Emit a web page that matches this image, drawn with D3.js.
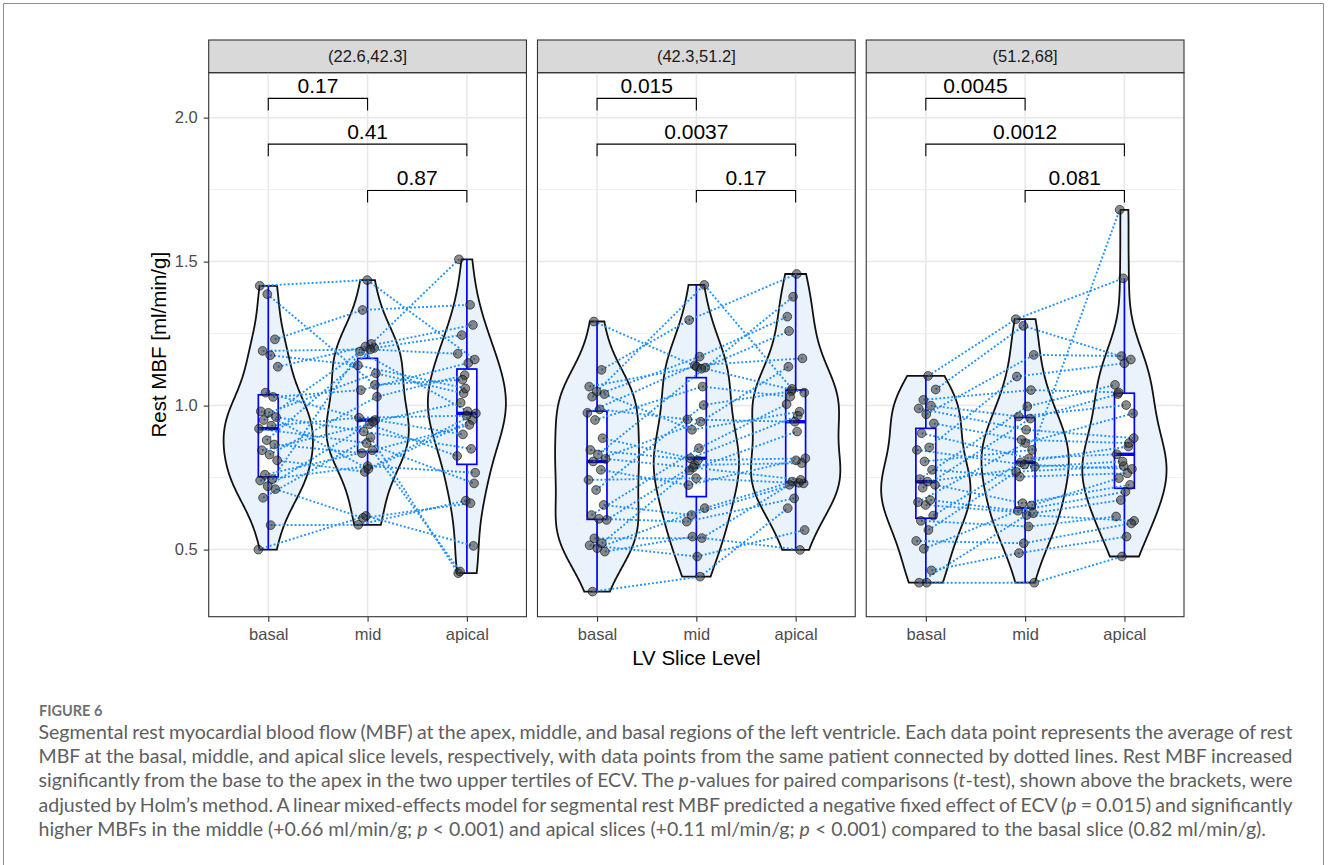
<!DOCTYPE html>
<html>
<head>
<meta charset="utf-8">
<script src="https://cdn.jsdelivr.net/npm/d3@7"></script>
<style>
body { margin: 0; background: #fff; }
svg { display: block; }
</style>
</head>
<body>
<svg id="chart" width="1328" height="865"></svg>
<script>
var facets = ["(22.6,42.3]", "(42.3,51.2]", "(51.2,68]"];
var levels = ["basal", "mid", "apical"];

// one value per patient, same index = same patient
var basal1 = [0.50, 0.585, 0.68, 0.71, 0.72, 0.74, 0.745, 0.76, 0.81, 0.83, 0.845, 0.865, 0.88, 0.92, 0.93, 0.95, 0.96, 0.975, 0.98, 1.03, 1.045, 1.135, 1.175, 1.19, 1.23, 1.387, 1.416];
var mid1 = [0.617, 0.586, 0.89, 0.61, 0.95, 0.79, 1.188, 0.845, 0.77, 1.031, 0.935, 0.835, 1.2, 0.87, 0.958, 1.214, 0.91, 1.112, 0.78, 1.054, 0.944, 1.205, 1.14, 1.195, 1.332, 1.072, 1.436];
var apical1 = [0.513, 0.67, 0.418, 0.661, 0.90, 0.767, 0.98, 0.424, 0.95, 1.106, 0.825, 0.933, 1.245, 0.73, 0.965, 1.508, 0.85, 1.043, 0.973, 1.148, 1.01, 1.28, 1.06, 1.18, 1.35, 1.09, 1.16];

var basal2 = [0.354, 0.493, 0.505, 0.515, 0.522, 0.539, 0.603, 0.607, 0.62, 0.655, 0.707, 0.742, 0.777, 0.806, 0.815, 0.83, 0.846, 0.887, 0.95, 0.975, 0.987, 1.031, 1.04, 1.049, 1.066, 1.124, 1.292];
var mid2 = [0.406, 0.545, 0.644, 0.476, 0.775, 0.54, 0.794, 0.597, 0.852, 0.62, 1.002, 0.748, 0.724, 0.944, 0.785, 1.132, 0.81, 0.817, 1.066, 1.14, 0.952, 1.17, 0.916, 1.419, 1.135, 1.297, 1.128];
var apical2 = [0.644, 0.499, 0.736, 0.568, 0.91, 0.725, 0.80, 0.678, 1.005, 0.732, 1.05, 0.73, 0.81, 1.135, 0.742, 1.378, 0.817, 0.965, 1.031, 1.164, 0.944, 1.309, 0.979, 1.058, 1.045, 1.457, 1.259];

var basal3 = [0.385, 0.385, 0.428, 0.503, 0.53, 0.568, 0.6, 0.618, 0.655, 0.665, 0.672, 0.715, 0.725, 0.736, 0.745, 0.777, 0.806, 0.846, 0.855, 0.904, 0.938, 0.97, 0.99, 1.0, 1.02, 1.056, 1.103];
var mid3 = [0.385, 0.62, 0.488, 0.653, 0.522, 0.77, 0.58, 0.803, 0.626, 0.87, 0.635, 0.955, 0.661, 0.788, 0.997, 0.753, 0.846, 0.795, 1.101, 0.817, 0.881, 1.176, 0.916, 0.962, 1.054, 1.277, 1.30];
var apical3 = [0.476, 0.60, 0.545, 0.748, 0.591, 0.79, 0.615, 0.858, 0.672, 0.973, 0.701, 1.04, 0.725, 0.806, 1.072, 0.765, 1.68, 0.78, 1.147, 0.831, 0.87, 1.172, 0.887, 1.002, 1.046, 1.16, 1.442];

// adjusted p-values: basal-mid, basal-apical, mid-apical
var pvals1 = ["0.17", "0.41", "0.87"];
var pvals2 = ["0.015", "0.0037", "0.17"];
var pvals3 = ["0.0045", "0.0012", "0.081"];
var comparisons = [["basal", "mid"], ["basal", "apical"], ["mid", "apical"]];
var bracketY = [2.067, 1.908, 1.747];

var yTicks = [0.5, 1.0, 1.5, 2.0];
var yMinor = [0.75, 1.25, 1.75];

var captionTitle = "FIGURE 6";
var captionLines = [
    "Segmental rest myocardial blood flow (MBF) at the apex, middle, and basal regions of the left ventricle. Each data point represents the average of rest",
    "MBF at the basal, middle, and apical slice levels, respectively, with data points from the same patient connected by dotted lines. Rest MBF increased",
    "significantly from the base to the apex in the two upper tertiles of ECV. The _p_-values for paired comparisons (_t_-test), shown above the brackets, were",
    "adjusted by Holm\u2019s method. A linear mixed-effects model for segmental rest MBF predicted a negative fixed effect of ECV (_p_ = 0.015) and significantly",
    "higher MBFs in the middle (+0.66 ml/min/g; _p_ < 0.001) and apical slices (+0.11 ml/min/g; _p_ < 0.001) compared to the basal slice (0.82 ml/min/g)."
];

var panels = [
    { facet: facets[0], basal: basal1, mid: mid1, apical: apical1, pvals: pvals1 },
    { facet: facets[1], basal: basal2, mid: mid2, apical: apical2, pvals: pvals2 },
    { facet: facets[2], basal: basal3, mid: mid3, apical: apical3, pvals: pvals3 }
];

var FONT = "'Liberation Sans', Arial, Helvetica, sans-serif";
var svg = d3.select('#chart');

svg.append('rect').attr('width', 1328).attr('height', 865).attr('fill', '#fff');
svg.append('path')
    .attr('d', 'M3.5,870V3.5H1323.5V870')
    .attr('fill', 'none')
    .attr('stroke', '#8c8c8c')
    .attr('stroke-width', 1);

var stripTop = 40, panelTop = 72.7, panelBottom = 616.7;
var fx = d3.scaleBand().domain(facets).range([208.7, 1184]).paddingInner(0.0335);
var y = d3.scaleLinear().domain([0.267, 2.156]).range([panelBottom, panelTop]);

// gaussian kernel density, bw.nrd0, trimmed to the data range
function kde(values, n) {
    var s = values.slice().sort(d3.ascending);
    var sd = d3.deviation(s);
    var iqr = d3.quantile(s, 0.75) - d3.quantile(s, 0.25);
    var bw = 0.9 * Math.min(sd, iqr / 1.34) * Math.pow(s.length, -0.2);
    var lo = s[0], hi = s[s.length - 1];
    var out = [];
    for (var k = 0; k < n; k++) {
        var t = lo + (hi - lo) * k / (n - 1);
        var sum = 0;
        for (var j = 0; j < s.length; j++) {
            var z = (t - s[j]) / bw;
            sum += Math.exp(-0.5 * z * z);
        }
        out.push([t, sum / (s.length * bw * Math.sqrt(2 * Math.PI))]);
    }
    return out;
}

function boxStats(values) {
    var s = values.slice().sort(d3.ascending);
    var q1 = d3.quantile(s, 0.25), med = d3.quantile(s, 0.5), q3 = d3.quantile(s, 0.75);
    var iqr = q3 - q1;
    var lo = d3.min(s.filter(v => v >= q1 - 1.5 * iqr));
    var hi = d3.max(s.filter(v => v <= q3 + 1.5 * iqr));
    return { q1: q1, med: med, q3: q3, lo: lo, hi: hi };
}

panels.forEach(function (p, pi) {
    var x0 = fx(p.facet), pw = fx.bandwidth();
    var x = d3.scalePoint().domain(levels).range([0, pw]).padding(0.6);
    var step = x.step();
    var g = svg.append('g').attr('transform', 'translate(' + x0 + ',0)');

    // strip
    g.append('rect')
        .attr('x', 0).attr('y', stripTop)
        .attr('width', pw).attr('height', panelTop - stripTop)
        .attr('fill', '#d9d9d9').attr('stroke', '#333').attr('stroke-width', 1.1);
    g.append('text')
        .attr('x', pw / 2).attr('y', (stripTop + panelTop) / 2)
        .attr('dy', '0.36em')
        .attr('text-anchor', 'middle')
        .style('font-family', FONT).style('font-size', '16.5px').style('fill', '#1a1a1a')
        .text(p.facet);

    // grid
    g.selectAll('.minor').data(yMinor).enter().append('line')
        .attr('x1', 0).attr('x2', pw)
        .attr('y1', d => y(d)).attr('y2', d => y(d))
        .attr('stroke', '#ebebeb').attr('stroke-width', 0.8);
    g.selectAll('.major').data(yTicks).enter().append('line')
        .attr('x1', 0).attr('x2', pw)
        .attr('y1', d => y(d)).attr('y2', d => y(d))
        .attr('stroke', '#e8e8e8').attr('stroke-width', 1.5);
    g.selectAll('.vgrid').data(levels).enter().append('line')
        .attr('x1', d => x(d)).attr('x2', d => x(d))
        .attr('y1', panelTop).attr('y2', panelBottom)
        .attr('stroke', '#e8e8e8').attr('stroke-width', 1.5);

    // violins, scaled by the panel's max density
    var dens = levels.map(l => kde(p[l], 512));
    var maxD = d3.max(dens, d => d3.max(d, e => e[1]));
    levels.forEach(function (l, li) {
        var cx = x(l);
        var area = d3.area()
            .x0(d => cx - d[1] / maxD * 0.45 * step)
            .x1(d => cx + d[1] / maxD * 0.45 * step)
            .y(d => y(d[0]));
        g.append('path')
            .attr('d', area(dens[li]) + 'Z')
            .attr('fill', '#eaf3fc')
            .attr('stroke', '#111')
            .attr('stroke-width', 1.8);
    });

    // boxplots
    levels.forEach(function (l) {
        var cx = x(l), b = boxStats(p[l]), hw = 0.1 * step;
        g.append('line').attr('x1', cx).attr('x2', cx)
            .attr('y1', y(b.hi)).attr('y2', y(b.q3))
            .attr('stroke', '#0000ff').attr('stroke-width', 1.7);
        g.append('line').attr('x1', cx).attr('x2', cx)
            .attr('y1', y(b.q1)).attr('y2', y(b.lo))
            .attr('stroke', '#0000ff').attr('stroke-width', 1.7);
        g.append('rect')
            .attr('x', cx - hw).attr('width', 2 * hw)
            .attr('y', y(b.q3)).attr('height', y(b.q1) - y(b.q3))
            .attr('fill', '#fff').attr('stroke', '#0000ff').attr('stroke-width', 1.7);
        g.append('line').attr('x1', cx - hw).attr('x2', cx + hw)
            .attr('y1', y(b.med)).attr('y2', y(b.med))
            .attr('stroke', '#0000ff').attr('stroke-width', 3.4);
    });

    // fixed small horizontal jitter per point
    function jit(j, li) {
        var f = (j * 0.618034 + li * 0.4142 + pi * 0.2718) % 1;
        return (f - 0.5) * 0.2 * step;
    }

    var patients = p.basal.map((v, j) => levels.map((l, li) => [x(l) + jit(j, li), y(p[l][j])]));

    g.selectAll('.patient').data(patients).enter().append('path')
        .attr('d', d3.line())
        .attr('fill', 'none')
        .attr('stroke', '#1e90ff')
        .attr('stroke-width', 1.9)
        .attr('stroke-dasharray', '1.9,2.1');

    g.selectAll('.pt').data(patients.flat()).enter().append('circle')
        .attr('cx', d => d[0]).attr('cy', d => d[1]).attr('r', 4.4)
        .attr('fill', '#2e2e2e').attr('fill-opacity', 0.55)
        .attr('stroke', '#000').attr('stroke-opacity', 0.55).attr('stroke-width', 1);

    // brackets
    comparisons.forEach(function (c, ci) {
        var xa = x(c[0]), xb = x(c[1]), by = bracketY[ci];
        g.append('path')
            .attr('d', 'M' + xa + ',' + y(by - 0.042) + 'V' + y(by) + 'H' + xb + 'V' + y(by - 0.042))
            .attr('fill', 'none').attr('stroke', '#000').attr('stroke-width', 1.1);
        g.append('text')
            .attr('x', (xa + xb) / 2).attr('y', y(by) - 5)
            .attr('text-anchor', 'middle')
            .style('font-family', FONT).style('font-size', '21px').style('fill', '#000')
            .text(p.pvals[ci]);
    });

    // panel border
    g.append('rect')
        .attr('x', 0).attr('y', panelTop)
        .attr('width', pw).attr('height', panelBottom - panelTop)
        .attr('fill', 'none').attr('stroke', '#333').attr('stroke-width', 1.1);

    // x axis
    var ax = g.append('g')
        .attr('transform', 'translate(0,' + panelBottom + ')')
        .call(d3.axisBottom(x).tickSize(5).tickPadding(7));
    ax.select('.domain').remove();
    ax.selectAll('line').attr('stroke', '#333').attr('stroke-width', 1.1);
    ax.selectAll('text').style('font-family', FONT).style('font-size', '16.5px').style('fill', '#4d4d4d');

    if (pi === 0) {
        var ay = g.append('g')
            .call(d3.axisLeft(y).tickValues(yTicks).tickFormat(d3.format('.1f')).tickSize(5).tickPadding(6));
        ay.select('.domain').remove();
        ay.selectAll('line').attr('stroke', '#333').attr('stroke-width', 1.1);
        ay.selectAll('text').style('font-family', FONT).style('font-size', '16.5px').style('fill', '#4d4d4d');
    }
});

// axis titles
svg.append('text')
    .attr('x', (fx.range()[0] + fx.range()[1]) / 2).attr('y', 665)
    .attr('text-anchor', 'middle')
    .style('font-family', FONT).style('font-size', '20.5px').style('fill', '#000')
    .text('LV Slice Level');
svg.append('text')
    .attr('transform', 'translate(165.5,' + (panelTop + panelBottom) / 2 + ') rotate(-90)')
    .attr('text-anchor', 'middle')
    .style('font-family', FONT).style('font-size', '20.5px').style('fill', '#000')
    .text('Rest MBF [ml/min/g]');

// caption
var CAP = "Lato, 'Open Sans', sans-serif";
svg.append('text')
    .attr('x', 39).attr('y', 715.5)
    .style('font-family', CAP).style('font-size', '14.5px').style('font-weight', 700)
    .style('fill', '#707070')
    .text(captionTitle);

var capLeft = 38.5, capRight = 1292.5, lastRight = 1267;
var capNodes = captionLines.map(function (line, i) {
    var t = svg.append('text')
        .attr('x', capLeft).attr('y', 739 + i * 24.2)
        .style('font-family', CAP).style('font-size', '16px').style('fill', '#5e5e5e');
    line.split('_').forEach(function (seg, si) {
        t.append('tspan').style('font-style', si % 2 ? 'italic' : 'normal').text(seg);
    });
    return t;
});
// size the font so the last (unjustified) line ends where it does, then justify the rest
var natural = capNodes[4].node().getComputedTextLength();
var fs = 16 * (lastRight - capLeft) / natural;
capNodes.forEach(function (t, i) {
    t.style('font-size', fs + 'px');
    if (i < capNodes.length - 1) {
        var w = t.node().getComputedTextLength();
        var spaces = captionLines[i].split(' ').length - 1;
        t.style('word-spacing', ((capRight - capLeft - w) / spaces) + 'px');
    }
});
</script>
</body>
</html>
